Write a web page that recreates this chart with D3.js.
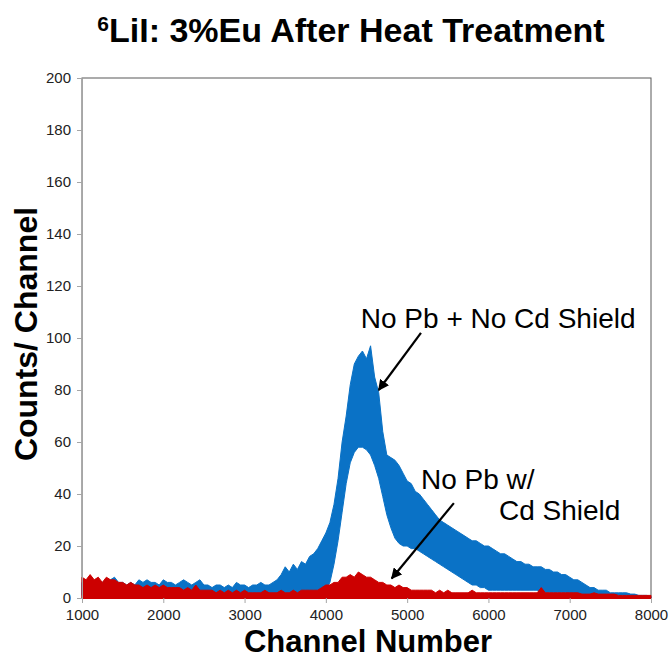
<!DOCTYPE html>
<html>
<head>
<meta charset="utf-8">
<script src="https://cdn.jsdelivr.net/npm/d3@7"></script>
<style>
  body { margin: 0; background: #fff; }
  svg { display: block; font-family: "Liberation Sans", Arial, sans-serif; }
</style>
</head>
<body>
<div id="chart"></div>
<script>
// channel grid, one reading every 50 channels
const channels = d3.range(1000, 8001, 50);

// No Pb + No Cd Shield (blue): top and bottom of the noisy trace
const blueHigh = [
  6,5,6,5,6,6,7,7,8,6,
  6,5,6,5,7,6,7,6,6,5,
  7,6,6,5,6,7,6,5,6,7,
  5,5,4,5,5,4,5,4,6,5,
  5,4,5,5,6,5,5,6,7,9,
  12,10,13,11,14,13,16,17,19,22,
  25,29,36,46,60,70,82,90,93,95,
  92,97,85,79,64,55,54,53,51,48,
  45,44,41,40,38,36,34,32,30,29,
  28,27,26,25,24,23,22,22,21,20,
  20,19,18,17,17,16,15,14,14,13,
  13,12,12,12,11,11,10,10,9,9,
  8,7,7,6,5,4,4,3,3,3,
  2,2,2,2,2,1.5,1.5,1,1,1,
  0.5
];
const blueLow = [
  1,1,1,1,1,1,1,1,1,1,
  1,1,1,1,1,1,1,1,1,1,
  1,1,1,1,1,1,1,1,1,1,
  1,1,1,1,1,1,1,1,1,1,
  1,1,1,1,1,1,1,1,1,1,
  1,1,1,1,1,1,1,1,1,1,
  3,6,13,22,33,44,52,56,58,58,
  57,55,51,46,39,32,27,23,21,20,
  20,19,19,18,17,16,15,14,13,12,
  11,10,9,8,7,6,5,5,4,4,
  3,3,3,3,3,3,3,3,3,3,
  3,3,3,2,2,2,2,2,2,2,
  1.5,1.5,1.5,1.5,1.5,1.5,1.5,1.5,1.5,1.5,
  1,1,1,1,1,0.5,0.5,0.5,0.5,0.5,
  0
];

// No Pb w/ Cd Shield (red): top of the trace, it runs down to zero
const redHigh = [
  8,7,9,7,8,6,8,7,7,6,
  6,5,6,5,5,4,5,4,5,4,
  5,4,4,4,4,3,4,3,5,3,
  3,3,3,2,3,2,3,2,3,2,
  3,2,2,2,2,3,2,2,2,3,
  2,2,3,2,3,3,3,3,3,4,
  5,5,6,6,8,8,9,8,10,9,
  8,8,7,6,6,5,5,4,5,4,
  4,3,3,3,3,3,3,2,3,2,
  3,2,2,2,2,2,3,2,2,2,
  2,2,2,2,2,2,2,2,2,2,
  2,2,2,4,2,2,2,2,2,2,
  2,2,2,1.5,1.5,1.5,2,1.5,1.5,1.5,
  1.5,1.5,1,1,1,1,1,1,1,1,
  1
];

const xTicks = [1000, 2000, 3000, 4000, 5000, 6000, 7000, 8000];
const yTicks = [0, 20, 40, 60, 80, 100, 120, 140, 160, 180, 200];

const labels = [
  { text: "No Pb + No Cd Shield", x: 4430, y: 104 },
  { text: "No Pb w/", x: 5170, y: 42 },
  { text: "Cd Shield", x: 6130, y: 30 }
];
const arrows = [
  { from: [5170, 102], to: [4650, 80] },
  { from: [5575, 36.5], to: [4810, 7.5] }
];

const width = 670, height = 659;
const margin = { top: 78, right: 19, bottom: 61, left: 82 };
const innerW = width - margin.left - margin.right;
const innerH = height - margin.top - margin.bottom;

const svg = d3.select("#chart").append("svg")
  .attr("width", width)
  .attr("height", height);

svg.append("defs").append("marker")
  .attr("id", "head")
  .attr("viewBox", "0 0 10 10")
  .attr("refX", 9).attr("refY", 5)
  .attr("markerWidth", 5).attr("markerHeight", 5)
  .attr("orient", "auto")
  .append("path")
  .attr("d", "M0,0 L10,5 L0,10 z")
  .attr("fill", "#000");

const g = svg.append("g").attr("transform", `translate(${margin.left},${margin.top})`);

const x = d3.scaleLinear().domain([1000, 8000]).range([0, innerW]);
const y = d3.scaleLinear().domain([0, 200]).range([innerH, 0]);

// plot frame
g.append("rect")
  .attr("width", innerW).attr("height", innerH)
  .attr("fill", "none").attr("stroke", "#595959").attr("stroke-width", 1);

const blueArea = d3.area()
  .x((d, i) => x(channels[i]))
  .y0((d, i) => y(blueLow[i]))
  .y1(d => y(d));

const redArea = d3.area()
  .x((d, i) => x(channels[i]))
  .y0(y(0))
  .y1(d => y(d));

g.append("path").datum(blueHigh)
  .attr("d", blueArea)
  .attr("fill", "#0a72c6").attr("stroke", "#0a72c6").attr("stroke-width", 1)
  .attr("stroke-linejoin", "miter");

g.append("path").datum(redHigh)
  .attr("d", redArea)
  .attr("fill", "#cc0000").attr("stroke", "#cc0000").attr("stroke-width", 1);

// axes
const yAxis = g.append("g")
  .call(d3.axisLeft(y).tickValues(yTicks).tickSize(5).tickPadding(6));
const xAxis = g.append("g")
  .attr("transform", `translate(0,${innerH})`)
  .call(d3.axisBottom(x).tickValues(xTicks).tickFormat(d3.format("d")).tickSize(5).tickPadding(6));

[yAxis, xAxis].forEach(a => {
  a.select(".domain").attr("stroke", "#a6a6a6");
  a.selectAll(".tick line").attr("stroke", "#a6a6a6");
  a.selectAll(".tick text")
    .attr("fill", "#222")
    .style("font-size", "15px")
    .style("font-family", "Liberation Sans, Arial, sans-serif");
});
xAxis.select(".domain").attr("stroke", "#cc0000");

// annotations
labels.forEach(l => {
  g.append("text")
    .attr("x", x(l.x)).attr("y", y(l.y))
    .attr("fill", "#000")
    .style("font-size", "28px")
    .text(l.text);
});
arrows.forEach(a => {
  g.append("line")
    .attr("x1", x(a.from[0])).attr("y1", y(a.from[1]))
    .attr("x2", x(a.to[0])).attr("y2", y(a.to[1]))
    .attr("stroke", "#000").attr("stroke-width", 2.2)
    .attr("marker-end", "url(#head)");
});

// titles
const title = svg.append("text")
  .attr("x", 351).attr("y", 42)
  .attr("text-anchor", "middle")
  .style("font-size", "34px").style("font-weight", "bold");
title.append("tspan").attr("dy", "-11").style("font-size", "21px").text("6");
title.append("tspan").attr("dy", "11").text("LiI: 3%Eu After Heat Treatment");

svg.append("text")
  .attr("transform", `translate(37,${margin.top + innerH / 2 - 4}) rotate(-90)`)
  .attr("text-anchor", "middle")
  .style("font-size", "32px").style("font-weight", "bold")
  .text("Counts/ Channel");

svg.append("text")
  .attr("x", 368).attr("y", 652)
  .attr("text-anchor", "middle")
  .style("font-size", "31px").style("font-weight", "bold")
  .text("Channel Number");
</script>
</body>
</html>
